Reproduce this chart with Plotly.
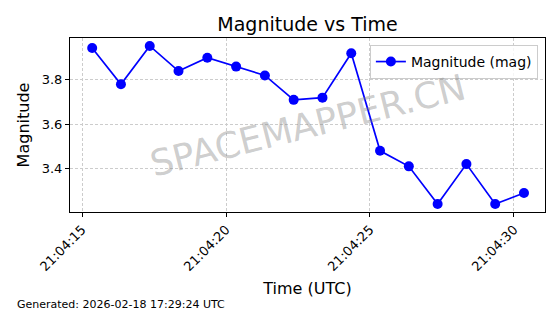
import plotly.graph_objects as go

times = ["2026-02-18 21:04:15.35", "2026-02-18 21:04:16.35", "2026-02-18 21:04:17.35",
         "2026-02-18 21:04:18.35", "2026-02-18 21:04:19.35", "2026-02-18 21:04:20.35",
         "2026-02-18 21:04:21.35", "2026-02-18 21:04:22.35", "2026-02-18 21:04:23.35",
         "2026-02-18 21:04:24.35", "2026-02-18 21:04:25.35", "2026-02-18 21:04:26.35",
         "2026-02-18 21:04:27.35", "2026-02-18 21:04:28.35", "2026-02-18 21:04:29.35",
         "2026-02-18 21:04:30.35"]
magnitude = [3.944, 3.78, 3.953, 3.84, 3.90, 3.86, 3.82, 3.71, 3.72, 3.92,
             3.48, 3.41, 3.24, 3.42, 3.24, 3.29]
tick_vals = ["2026-02-18 21:04:15", "2026-02-18 21:04:20", "2026-02-18 21:04:25", "2026-02-18 21:04:30"]
tick_text = ["21:04:15", "21:04:20", "21:04:25", "21:04:30"]
y_ticks = [3.4, 3.6, 3.8]
y_tick_text = ["3.4", "3.6", "3.8"]

FONT = "DejaVu Sans"

fig = go.Figure()
fig.add_trace(go.Scatter(
    x=times, y=magnitude, mode="lines+markers", name="Magnitude (mag)",
    line=dict(color="#0000ff", width=1.7),
    marker=dict(color="#0000ff", size=10),
))

axis_common = dict(
    showline=True, linecolor="black", linewidth=1, mirror=True,
    ticks="outside", ticklen=4, tickcolor="black",
    showgrid=True, gridcolor="#cccccc", griddash="3px,2px", gridwidth=1,
    zeroline=False, tickfont=dict(family=FONT, size=13, color="black"),
)

fig.update_layout(
    width=560, height=314,
    margin=dict(l=70, r=15, t=38, b=102),
    paper_bgcolor="white", plot_bgcolor="white",
    font=dict(family=FONT, color="black"),
    title=dict(text="Magnitude vs Time", x=0.5, xref="paper", xanchor="center",
               y=1, yref="container", yanchor="top", pad=dict(t=18),
               font=dict(family=FONT, size=19, color="black")),
    xaxis=dict(type="date", range=["2026-02-18 21:04:14.58", "2026-02-18 21:04:31.08"],
               tickvals=tick_vals, ticktext=tick_text, tickangle=-45,
               title=dict(text="Time (UTC)", font=dict(family=FONT, size=16), standoff=9),
               **axis_common),
    yaxis=dict(range=[3.204, 3.989], tickvals=y_ticks, ticktext=y_tick_text,
               title=dict(text="Magnitude", font=dict(family=FONT, size=16), standoff=8),
               **axis_common),
    legend=dict(x=0.985, y=0.96, xanchor="right", yanchor="top",
                bgcolor="rgba(255,255,255,0.8)", bordercolor="#cccccc", borderwidth=1,
                font=dict(family=FONT, size=14, color="black")),
    showlegend=True,
)

fig.add_annotation(text="SPACEMAPPER.CN", xref="paper", yref="paper", x=0.5, y=0.5,
                   showarrow=False, textangle=-14,
                   font=dict(family=FONT, size=36, color="rgba(128,128,128,0.4)"))
fig.add_annotation(text="Generated: 2026-02-18 17:29:24 UTC", xref="paper", yref="paper",
                   xanchor="left", yanchor="middle", showarrow=False,
                   x=-55/475, y=-92/174,
                   font=dict(family=FONT, size=11, color="black"))

fig.write_html("out.html")
